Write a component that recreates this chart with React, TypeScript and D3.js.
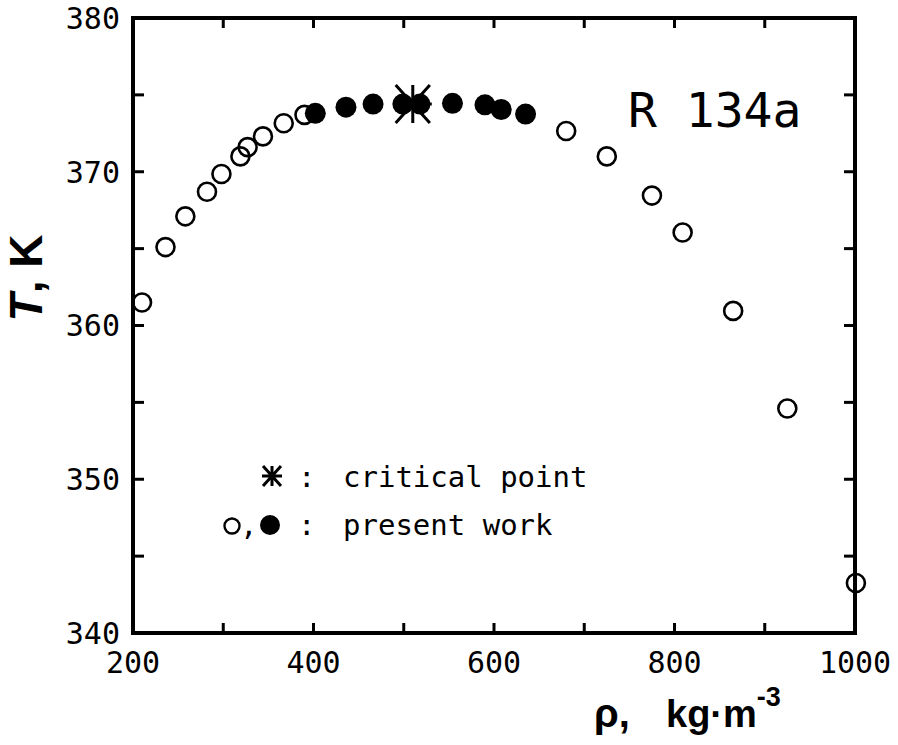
import * as d3 from 'd3'

// saturated-vapour / liquid densities (kg/m3) and temperatures (K)
const openRho = [210, 236, 258, 282, 298, 319, 327, 344, 367, 390, 680, 725, 775, 809, 865, 925, 1001]
const openT = [361.5, 365.1, 367.1, 368.7, 369.85, 371.0, 371.6, 372.3, 373.15, 373.7, 372.65, 371.0, 368.45, 366.05, 360.95, 354.6, 343.25]

const filledRho = [402, 436, 466, 499, 518, 554, 590, 608, 635]
const filledT = [373.8, 374.2, 374.4, 374.4, 374.4, 374.45, 374.35, 374.05, 373.75]

const criticalRho = [510]
const criticalT = [374.4]

const xTicks = [200, 300, 400, 500, 600, 700, 800, 900, 1000]
const xLabels = [200, 400, 600, 800, 1000]
const yTicks = [340, 345, 350, 355, 360, 365, 370, 375, 380]
const yLabels = [340, 350, 360, 370, 380]

const W = 898
const H = 745
const plot = { left: 133, right: 855, top: 18, bottom: 633 }
const mono = '"DejaVu Sans Mono", monospace'
const sans = '"Liberation Sans", Arial, sans-serif'

// asterisk with vertical, horizontal and two diagonal arms
const starPath = (cx: number, cy: number, s: number) => {
  const d = s * 0.9
  return [
    `M${cx},${cy - s}L${cx},${cy + s}`,
    `M${cx - s},${cy}L${cx + s},${cy}`,
    `M${cx - d},${cy - s}L${cx + d},${cy + s}`,
    `M${cx - d},${cy + s}L${cx + d},${cy - s}`,
  ].join('')
}

const App = () => {
  const x = d3.scaleLinear().domain([200, 1000]).range([plot.left, plot.right])
  const y = d3.scaleLinear().domain([340, 380]).range([plot.bottom, plot.top])
  const tick = 10

  return (
    <svg width={W} height={H} style={{ position: 'absolute', left: 0, top: 0, background: '#fff' }}>
      {/* frame */}
      <rect
        x={x(200)}
        y={y(380)}
        width={x(1000) - x(200)}
        height={y(340) - y(380)}
        fill="none"
        stroke="#000"
        strokeWidth={4}
      />
      {xTicks.map((t) => (
        <g key={'xt' + t} stroke="#000" strokeWidth={3}>
          <line x1={x(t)} x2={x(t)} y1={y(340)} y2={y(340) - tick} />
          <line x1={x(t)} x2={x(t)} y1={y(380)} y2={y(380) + tick} />
        </g>
      ))}
      {yTicks.map((t) => (
        <g key={'yt' + t} stroke="#000" strokeWidth={3}>
          <line x1={x(200)} x2={x(200) + tick + 1} y1={y(t)} y2={y(t)} />
          <line x1={x(1000)} x2={x(1000) - tick - 1} y1={y(t)} y2={y(t)} />
        </g>
      ))}
      {xLabels.map((t) => (
        <text key={'xl' + t} x={x(t)} y={673} textAnchor="middle" fontFamily={mono} fontSize={30}>
          {t}
        </text>
      ))}
      {yLabels.map((t) => (
        <text key={'yl' + t} x={120} y={y(t)} dy="0.36em" textAnchor="end" fontFamily={mono} fontSize={30}>
          {t}
        </text>
      ))}

      {/* axis titles */}
      <text
        transform={`translate(42, 278) rotate(-90)`}
        textAnchor="middle"
        fontFamily={sans}
        fontWeight="bold"
        fontSize={46}
      >
        <tspan fontStyle="italic">T</tspan>, K
      </text>
      <text x={594} y={727} fontFamily={sans} fontWeight="bold" fontSize={40}>
        ρ,
      </text>
      <text x={666} y={727} fontFamily={sans} fontWeight="bold" fontSize={38}>
        kg·m
        <tspan dy={-21} fontSize={27}>
          -3
        </tspan>
      </text>

      {/* data */}
      {openRho.map((r, i) => (
        <circle key={'o' + i} cx={x(r)} cy={y(openT[i])} r={9} fill="none" stroke="#000" strokeWidth={2.6} />
      ))}
      {filledRho.map((r, i) => (
        <circle key={'f' + i} cx={x(r)} cy={y(filledT[i])} r={10.5} fill="#000" />
      ))}
      {criticalRho.map((r, i) => (
        <path key={'c' + i} d={starPath(x(r), y(criticalT[i]), 19)} stroke="#000" strokeWidth={3} fill="none" />
      ))}

      <text x={628} y={127} fontFamily={mono} fontSize={48}>
        R 134a
      </text>

      {/* legend */}
      <path d={starPath(272, 476, 10)} stroke="#000" strokeWidth={3} fill="none" />
      <text x={298} y={487} fontFamily={mono} fontSize={29}>
        :
      </text>
      <text x={343} y={487} fontFamily={mono} fontSize={29}>
        critical point
      </text>
      <circle cx={232} cy={526} r={7.5} fill="none" stroke="#000" strokeWidth={2.4} />
      <text x={240} y={535} fontFamily={mono} fontSize={29}>
        ,
      </text>
      <circle cx={270} cy={525} r={10} fill="#000" />
      <text x={298} y={535} fontFamily={mono} fontSize={29}>
        :
      </text>
      <text x={343} y={535} fontFamily={mono} fontSize={29}>
        present work
      </text>
    </svg>
  )
}

export default App
